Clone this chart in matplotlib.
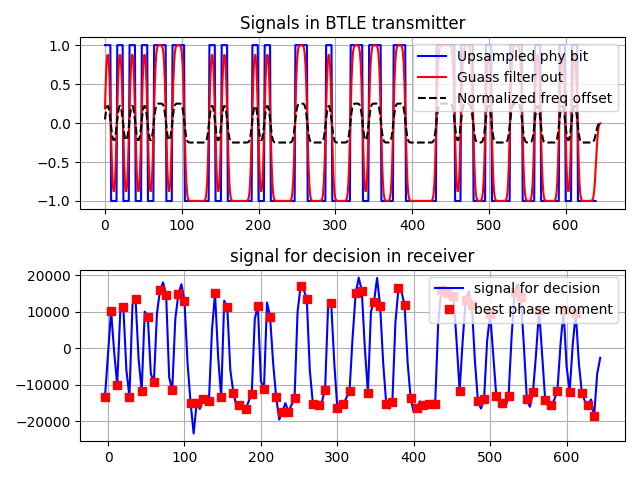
import numpy as np
import matplotlib
matplotlib.use("Agg")
import matplotlib.pyplot as plt

# ---- data ----
phy_bits = [1,0,1,0,1,0,1,0, 1,1,0,1,1,0,0,0, 0,1,0,1,0,0,0,0, 1,0,1,0,0,0,0,1,
            1,0,0,0,1,0,0,0, 1,1,0,1,1,0,0,1, 1,0,0,0,0,0,1,1, 1,0,1,1,0,0,1,0,
            0,0,1,1,0,0,1,0, 0,0,1,0,1,0,0,0]
samples_per_bit = 8
gauss_bt = 0.5
freq_scale = 0.25

# decision signal at the best phase moments (one per bit, plus preceding bit)
best_phase_values = [
    -13270, 10290, -10020, 11380, -13270, 13540, -11650, 8670, -9210, 15890,
    14630, -11380, 14720, 13000, -14900, -14900, -13900, -14360, 14990, -13450,
    11200, -12100, -15440, -16700, -12460, 11650, -11020, 8670, -13450, -17520,
    -17340, -13720, 17070, 13540, -15170, -15440, -11290, 12280, -16340, -15260,
    -11600, 14990, 15710, -12100, 12730, 11650, -15170, -14810, 16340, 11740,
    -13720, -16430, -15530, -15170, -15170, 15800, 15000, 14400, -11600, 13300,
    11900, -14500, -13900, 9400, -13000, -14900, -13180, 15440, 14090, -14000,
    -12050, 10500, -14200, -15650, -11560, 10470, -11830, 9750, -12320, -15400,
    -18600]
# decision signal half-way between consecutive phase moments (+ final tail)
mid_values = [
    -1500, -1000, 10000, -6000, 12000, -3000, 10000, -7000, 9500, 18000,
    -8000, 8000, 17500, -4000, -23300, -16600, -14000, 5000, -2200, 13000,
    -6000, -16000, -15500, -14500, 8000, -9000, 12500, -4000, -19500, -15000,
    -15500, 10000, 16000, -6000, -16500, -14500, 12000, -4000, -14500, -13500,
    3000, 19300, 0, 10000, 19200, -4000, -16500, 7000, 15500, -4000,
    -17500, -14500, -15000, -14800, 6900, 17000, 15500, 2000, 2000, 15500,
    -3400, -16500, 2000, -1600, -15000, -16000, 3000, 17500, 1000, -16000,
    -1600, -2000, -16000, -14000, 1000, -5000, 1000, -4000, -14500, -14000,
    -7000]
tail_values = [-2600]
decision_start = -4

# ---- processing (as a transmitter would do) ----
bits = np.array(phy_bits)
up = np.repeat(2 * bits - 1, samples_per_bit).astype(float)
sigma = np.sqrt(np.log(2)) / (2 * np.pi * gauss_bt) * samples_per_bit
t = np.arange(-3 * samples_per_bit, 3 * samples_per_bit + 1)
h = np.exp(-t**2 / (2 * sigma**2))
h /= h.sum()
pad = 3 * samples_per_bit
ext = np.concatenate([-np.ones(pad), up, np.zeros(pad)])
n_out = len(up) + 6
gauss_out = np.convolve(ext, h, mode="same")[pad:pad + n_out]
freq_offset = freq_scale * gauss_out

dec = []
for i, v in enumerate(best_phase_values):
    dec.append(v)
    dec.append(mid_values[i])
dec += tail_values
dec = np.array(dec, dtype=float)
half = samples_per_bit // 2
dec_x = decision_start + half * np.arange(len(dec))
bp_x = dec_x[0::2][:len(best_phase_values)]

fig, (ax1, ax2) = plt.subplots(2, 1, figsize=(6.4, 4.8), dpi=100)
ax1.plot(np.arange(len(up)), up, 'b-', label='Upsampled phy bit')
ax1.plot(np.arange(n_out), gauss_out, 'r-', label='Guass filter out')
ax1.plot(np.arange(n_out), freq_offset, 'k--', label='Normalized freq offset')
ax1.set_title('Signals in BTLE transmitter')
ax1.legend(loc='upper right')
ax1.grid(True)

ax2.plot(dec_x, dec, 'b-', label='signal for decision')
ax2.plot(bp_x, best_phase_values, 'rs', label='best phase moment')
ax2.set_title('signal for decision in receiver')
ax2.legend(loc='upper right')
ax2.grid(True)

fig.tight_layout()
fig.savefig('out.png', dpi=100)
